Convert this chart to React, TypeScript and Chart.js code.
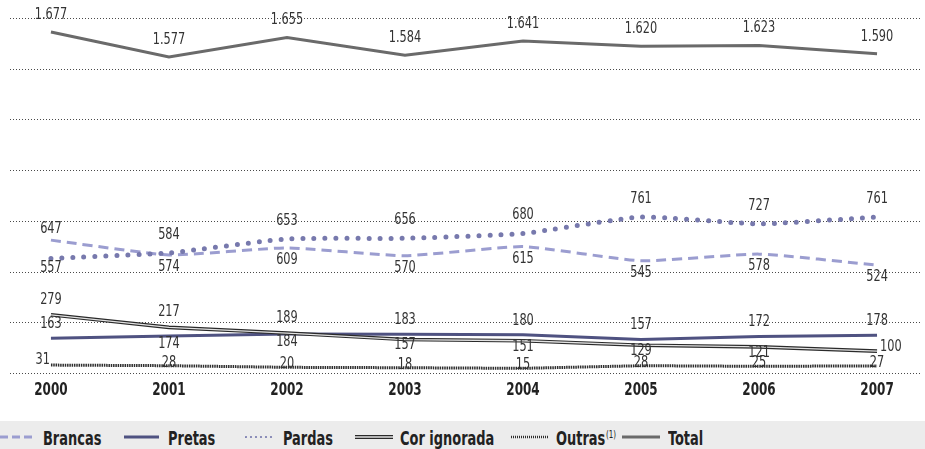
import React, { useEffect, useRef } from "react";
import { Chart, registerables } from "chart.js";

Chart.register(...registerables);

// ---------- data ----------
const YEARS = [2000, 2001, 2002, 2003, 2004, 2005, 2006, 2007];
const BRANCAS = [647, 574, 609, 570, 615, 545, 578, 524];
const PRETAS = [163, 174, 184, 183, 180, 157, 172, 178];
const PARDAS = [557, 584, 653, 656, 680, 761, 727, 761];
const COR_IGNORADA = [279, 217, 189, 157, 151, 129, 121, 100];
const OUTRAS = [31, 28, 20, 18, 15, 28, 25, 27];
const TOTAL = [1677, 1577, 1655, 1584, 1641, 1620, 1623, 1590];

// ---------- style ----------
const FONT = '"Liberation Sans Narrow", "DejaVu Sans Condensed", "Noto Sans", sans-serif';
const C_BRANCAS = "#9b9dd0";
const C_PRETAS = "#4f5281";
const C_PARDAS = "#7779ad";
const C_COR = "#2a2a2a";
const C_COR_IN = "#e2e2e2";
const C_OUTRAS = "#2e2e2e";
const C_TOTAL = "#6a6a6a";

// label placement per series: a=above, b=below, c=center, l=left, r=right
const LABEL_CFG: Record<string, { pos: string[]; up: number; down: number; mid: number }> = {
  Total: { pos: ["a", "a", "a", "a", "a", "a", "a", "a"], up: 17, down: 12, mid: 0 },
  Brancas: { pos: ["a", "b", "b", "b", "b", "b", "b", "b"], up: 11, down: 12, mid: 0 },
  Pardas: { pos: ["b", "a", "a", "a", "a", "a", "a", "a"], up: 18, down: 10, mid: 0 },
  Pretas: { pos: ["a", "b", "b", "a", "a", "a", "a", "a"], up: 14, down: 8, mid: 0 },
  "Cor ignorada": { pos: ["a", "a", "a", "b", "b", "b", "b", "r"], up: 15, down: 6, mid: 0 },
  Outras: { pos: ["l", "c", "c", "c", "c", "c", "c", "c"], up: 0, down: 0, mid: -3 },
};

const LABEL_SCALE = 0.84;
const TICK_SCALE = 0.74;

const fmt = (v: number) => String(v).replace(/\B(?=(\d{3})+(?!\d))/g, ".");
const pts = (arr: number[]) => arr.map((v, i) => ({ x: YEARS[i], y: v }));

const labelPlugin = {
  id: "valueLabels",
  afterDatasetsDraw(chart: any) {
    const ctx = chart.ctx;
    ctx.save();
    ctx.font = `15px ${FONT}`;
    ctx.fillStyle = "#333";
    ctx.textBaseline = "middle";
    chart.data.datasets.forEach((ds: any, di: number) => {
      const cfg = LABEL_CFG[ds.label];
      if (!cfg || ds.noLabel) return;
      const meta = chart.getDatasetMeta(di);
      meta.data.forEach((pt: any, i: number) => {
        const v = ds.data[i].y;
        const code = cfg.pos[i];
        let x = pt.x;
        let y = pt.y;
        let align = "center";
        if (code === "a") y -= cfg.up;
        else if (code === "b") y += cfg.down;
        else if (code === "c") y += cfg.mid;
        else if (code === "l") {
          align = "right";
          x -= 1;
          y -= 5;
        } else if (code === "r") {
          align = "left";
          x += 3;
          y -= 4;
        }
        ctx.save();
        ctx.translate(x, y);
        ctx.scale(LABEL_SCALE, 1);
        ctx.textAlign = align;
        ctx.fillText(fmt(v), 0, 0);
        ctx.restore();
      });
    });
    ctx.restore();
  },
};

// draws the x-axis year labels at the positions given by the x scale, condensed
const xLabelPlugin = {
  id: "xLabels",
  afterDraw(chart: any) {
    const sx = chart.scales.x;
    const ctx = chart.ctx;
    ctx.save();
    ctx.font = `bold 18px ${FONT}`;
    ctx.fillStyle = "#222";
    ctx.textAlign = "center";
    ctx.textBaseline = "middle";
    sx.ticks.forEach((t: any) => {
      const x = sx.getPixelForValue(t.value);
      ctx.save();
      ctx.translate(x, sx.top + 17);
      ctx.scale(TICK_SCALE, 1);
      ctx.fillText(String(t.value), 0, 0);
      ctx.restore();
    });
    ctx.restore();
  },
};

const dotGridPlugin = {
  id: "dotGrid",
  beforeDatasetsDraw(chart: any) {
    const g = chart.scales.g;
    const ctx = chart.ctx;
    const { left, right } = chart.chartArea;
    ctx.save();
    ctx.fillStyle = "#4a4a4a";
    g.ticks.forEach((t: any) => {
      const y = Math.round(g.getPixelForValue(t.value));
      for (let x = left; x < right; x += 3) ctx.fillRect(x, y, 1, 1);
    });
    ctx.restore();
  },
};

const Legend = () => {
  const items: { left: number; iconW: number; textLeft: number; text: React.ReactNode; icon: React.ReactNode }[] = [
    {
      left: 0, iconW: 36, textLeft: 43, text: "Brancas",
      icon: <line x1={0} y1={8} x2={36} y2={8} stroke={C_BRANCAS} strokeWidth={3} strokeDasharray="8 4" />,
    },
    {
      left: 124, iconW: 35, textLeft: 168, text: "Pretas",
      icon: <line x1={0} y1={8} x2={35} y2={8} stroke={C_PRETAS} strokeWidth={3} />,
    },
    {
      left: 245, iconW: 32, textLeft: 283, text: "Pardas",
      icon: <line x1={1} y1={8} x2={31} y2={8} stroke={C_PARDAS} strokeWidth={2.2} strokeDasharray="0 5" strokeLinecap="round" />,
    },
    {
      left: 355, iconW: 38, textLeft: 400, text: "Cor ignorada",
      icon: (
        <g>
          <line x1={0} y1={8} x2={38} y2={8} stroke={C_COR} strokeWidth={4} />
          <line x1={0} y1={8} x2={38} y2={8} stroke={C_COR_IN} strokeWidth={1.4} />
        </g>
      ),
    },
    {
      left: 511, iconW: 37, textLeft: 556,
      text: (
        <>
          Outras
          <span style={{ fontSize: 11, position: "relative", top: -7, fontWeight: "normal", marginLeft: 1 }}>(1)</span>
        </>
      ),
      icon: <line x1={0} y1={8} x2={37} y2={8} stroke={C_OUTRAS} strokeWidth={2.5} strokeDasharray="1 1" />,
    },
    {
      left: 622, iconW: 38, textLeft: 668, text: "Total",
      icon: <line x1={0} y1={8} x2={38} y2={8} stroke={C_TOTAL} strokeWidth={3} />,
    },
  ];
  return (
    <div style={{ position: "absolute", left: 0, top: 421, width: 925, height: 28, background: "#ececec", overflow: "hidden" }}>
      {items.map((it, k) => (
        <React.Fragment key={k}>
          <svg style={{ position: "absolute", left: it.left, top: 8 }} width={it.iconW} height={16}>
            {it.icon}
          </svg>
          <span
            style={{
              position: "absolute",
              left: it.textLeft,
              top: 7,
              fontFamily: FONT,
              fontWeight: "bold",
              fontSize: 20,
              lineHeight: "20px",
              color: "#222",
              whiteSpace: "nowrap",
              transform: "scaleX(0.72)",
              transformOrigin: "0 50%",
              display: "inline-block",
            }}
          >
            {it.text}
          </span>
        </React.Fragment>
      ))}
    </div>
  );
};

export default function App() {
  const ref = useRef<HTMLCanvasElement>(null);

  useEffect(() => {
    document.body.style.margin = "0";
    if (!ref.current) return;
    const common = { pointRadius: 0, pointHoverRadius: 0, fill: false, yAxisID: "y" };
    const chart = new Chart(ref.current, {
      type: "line",
      data: {
        datasets: [
          { ...common, label: "Total", data: pts(TOTAL), borderColor: C_TOTAL, borderWidth: 3, yAxisID: "y2", order: 1 },
          { ...common, label: "Pardas", data: pts(PARDAS), borderColor: C_PARDAS, borderWidth: 5, borderDash: [0, 11], borderCapStyle: "round", tension: 0.15, order: 2 },
          { ...common, label: "Brancas", data: pts(BRANCAS), borderColor: C_BRANCAS, borderWidth: 3, borderDash: [10, 6], tension: 0.15, order: 3 },
          { ...common, label: "Pretas", data: pts(PRETAS), borderColor: C_PRETAS, borderWidth: 3, order: 6 },
          { ...common, label: "Cor ignorada", noLabel: true, data: pts(COR_IGNORADA), borderColor: C_COR_IN, borderWidth: 1.3, order: 4 },
          { ...common, label: "Cor ignorada", data: pts(COR_IGNORADA), borderColor: C_COR, borderWidth: 3.6, order: 5 },
          { ...common, label: "Outras", data: pts(OUTRAS), borderColor: C_OUTRAS, borderWidth: 3, borderDash: [1.5, 0.8], order: 7 },
        ] as any,
      },
      options: {
        animation: false,
        responsive: false,
        maintainAspectRatio: false,
        layout: { padding: { top: 18, left: 10, right: 3, bottom: 0 } },
        plugins: { legend: { display: false }, tooltip: { enabled: false } },
        scales: {
          x: {
            type: "linear",
            min: 1999.653,
            max: 2007.381,
            afterBuildTicks: (s: any) => {
              s.ticks = YEARS.map((v) => ({ value: v }));
            },
            afterFit: (s: any) => {
              s.height = 48;
            },
            grid: { display: false, drawTicks: false },
            border: { display: false },
            ticks: { display: false },
          },
          g: {
            type: "linear",
            position: "left",
            min: 0,
            max: 7,
            afterBuildTicks: (s: any) => {
              s.ticks = [0, 1, 2, 3, 4, 5, 6, 7].map((v) => ({ value: v }));
            },
            afterFit: (s: any) => {
              s.width = 0;
            },
            ticks: { display: false },
            border: { display: false },
            grid: { display: false, drawTicks: false },
          },
          y: { type: "linear", display: false, min: -8, max: 1742 },
          y2: { type: "linear", display: false, min: 313, max: 1733 },
        },
      } as any,
      plugins: [dotGridPlugin, labelPlugin, xLabelPlugin],
    });
    return () => chart.destroy();
  }, []);

  return (
    <div style={{ position: "absolute", left: 0, top: 0, width: 925, height: 449, background: "#fff", overflow: "hidden" }}>
      <canvas ref={ref} width={925} height={421} style={{ position: "absolute", left: 0, top: 0, width: 925, height: 421 }} />
      <Legend />
    </div>
  );
}
